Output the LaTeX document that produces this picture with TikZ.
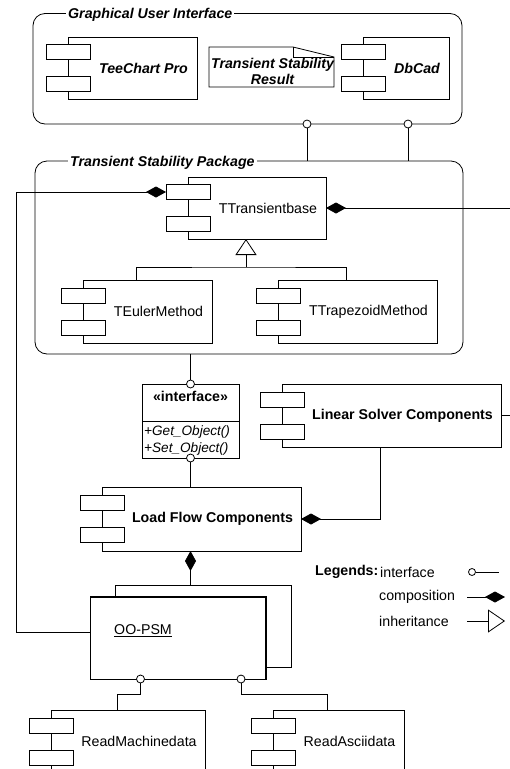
\documentclass[tikz,border=0pt]{standalone}
\usepackage{fontspec}
\setmainfont{Liberation Sans}
\usetikzlibrary{arrows.meta,calc,fit}
\newcommand\umlcomp[7]{%
  \node[cbody, anchor=north west, minimum width={(#4-#2)*1pt}, minimum height={(#5-#3)*1pt}] (#1-b) at (#2,#3) {};
  \node[cport] (#1-p1) at ([yshift=16pt]#1-b.west) {};
  \node[cport] (#1-p2) at ([yshift=-16pt]#1-b.west) {};
  \node[inner sep=0pt, outer sep=0pt, fit=(#1-p1)(#1-b)] (#1) {};
  \node[#6] (#1-t) at ($(#1-p1.east |- #1-b.center)!0.5!(#1-b.east)$) {#7};
}
\tikzset{
  lnw/.style={line width=0.8pt, draw=black},
  cbody/.style={draw, line width=0.8pt, fill=white, inner sep=0pt, outer sep=0pt},
  cport/.style={draw, line width=0.8pt, fill=white, minimum width=44pt, minimum height=15pt, inner sep=0pt, outer sep=0pt},
  fbi/.style={font=\fontsize{14.2}{16}\selectfont\bfseries\itshape, inner sep=0pt},
  fbf/.style={font=\fontsize{14.2}{16}\selectfont\bfseries, inner sep=0pt},
  frg/.style={font=\fontsize{14.2}{16}\selectfont, inner sep=0pt},
  fit13/.style={font=\fontsize{13.6}{15}\selectfont\itshape, inner sep=0pt},
  pkgbox/.style={draw, line width=0.8pt, rounded corners=12pt, inner sep=0pt, outer sep=0pt, anchor=north west},
  pkglbl/.style={fill=white, inner xsep=2pt, inner ysep=1pt, anchor=base west, font=\fontsize{14.2}{16}\selectfont\bfseries\itshape},
  lolli/.style={circle, draw, fill=white, minimum size=8pt, inner sep=0pt, outer sep=0pt, line width=0.8pt},
  compo/.style={lnw, -{Diamond[length=20pt,width=11pt]}},
  inher/.style={lnw, -{Triangle[open,length=16pt,width=21pt,fill=white]}},
}
\begin{document}
\begin{tikzpicture}[x=1pt,y=-1pt]
\clip (0,0) rectangle (510,769);
\fill[white] (0,0) rectangle (510,769);
% packages
\node[pkgbox, minimum width=429pt, minimum height=110.5pt] (gui) at (33,13.5) {};
\node[pkglbl] (gui-l) at (66,18) {Graphical User Interface};
\node[pkgbox, minimum width=428pt, minimum height=193pt] (tsp) at (35,161) {};
\node[pkglbl] (tsp-l) at (68,166) {Transient Stability Package};
% GUI contents
\umlcomp{tee}{68}{37}{197}{99}{fbi}{TeeChart Pro}
\umlcomp{dbc}{363}{37}{449}{99}{fbi}{DbCad}
\draw[lnw, fill=white] (209,47) -- (293,47) -- (334,57) -- (334,87) -- (209,87) -- cycle;
\draw[lnw] (293,47) -- (293,57) -- (334,57);
\node[fbi, align=center] (note) at (272.5,71) {Transient Stability\\Result};
% GUI lollipops
\node[lolli] (lg1) at (307,124) {};
\node[lolli] (lg2) at (408,124) {};
\draw[lnw] (lg1.south) -- (lg1.south |- tsp.north);
\draw[lnw] (lg2.south) -- (lg2.south |- tsp.north);
% TSP contents
\umlcomp{tb}{188}{177}{326}{239}{frg}{TTransientbase}
\umlcomp{te}{83}{280}{212}{343}{frg}{TEulerMethod}
\umlcomp{tt}{278}{280}{437}{343}{frg}{TTrapezoidMethod}
\coordinate (jn) at (tb.south |- 0,267);
\draw[lnw] (te.north) |- (jn) -| (tt.north);
\draw[inher] (jn) -- (tb.south);
% interface
\node[cbody, anchor=north west, minimum width=97pt, minimum height=74pt] (ifc) at (142,384) {};
\draw[lnw] (ifc.west |- 0,421) -- (ifc.east |- 0,421);
\node[fbf] (ifc-t) at (190.5,396) {«interface»};
\node[fit13, anchor=west] (ifc-m1) at (144,432) {+Get\_Object()};
\node[fit13, anchor=west] (ifc-m2) at (144,449) {+Set\_Object()};
\node[lolli] (li1) at (ifc.north) {};
\node[lolli] (li2) at (ifc.south) {};
\draw[lnw] (ifc.north |- tsp.south) -- (li1.north);
% Linear solver, load flow
\umlcomp{lsc}{282}{384}{501}{447}{fbf}{Linear Solver Components}
\umlcomp{lfc}{102}{487}{301}{551}{fbf}{Load Flow Components}
\draw[lnw] (li2.south) -- (lfc.north);
\draw[compo] (lsc.south) |- (lfc-b.east);
\coordinate (rx) at (510,0);
\draw[lnw] (lsc-b.east) -- (lsc-b.east -| rx);
\draw[compo] (tb-b.east -| rx) -- (tb-b.east);
% OO-PSM
\node[cbody, anchor=north west, minimum width=176pt, minimum height=82pt] (oo-k) at (115,585) {};
\node[cbody, anchor=north west, minimum width=176pt, minimum height=82pt] (oo-f) at (90,597) {};
\draw[line width=1.6pt] (oo-f.north west) -- (oo-f.north east) -- (oo-f.south east);
\node[inner sep=0pt, outer sep=0pt, fit=(oo-k)(oo-f)] (oo) {};
\node[frg] (oo-t) at (143,631) {\underline{OO-PSM}};
\draw[compo] (oo.north) -- (lfc.south);
\coordinate (lx) at (16,0);
\draw[compo] ([yshift=6pt]oo-f.west) -- ([yshift=6pt]oo-f.west -| lx) |- (tb-p1.west);
% readers
\umlcomp{rmd}{51}{710}{205}{773}{frg}{ReadMachinedata}
\umlcomp{rad}{273}{710}{404}{773}{frg}{ReadAsciidata}
\node[lolli] (lo1) at ([xshift=-50pt]oo.south) {};
\node[lolli] (lo2) at ([xshift=50.5pt]oo.south) {};
\draw[lnw] (lo1.south) -- ++(0,11) -| (rmd.north);
\draw[lnw] (lo2.south) -- ++(0,11) -| (rad.north);
% legend
\node[fbf, anchor=west] (lgd) at (315,572) {Legends:};
\node[frg, anchor=west] (lgd-i) at (380,572) {interface};
\node[frg, anchor=west] (lgd-c) at (379,597) {composition};
\node[frg, anchor=west] (lgd-h) at (379,621) {inheritance};
\node[lolli, minimum size=7pt] (lgd-o) at (472,572) {};
\coordinate (lgd-oe) at (499,572);
\draw[lnw] (lgd-o.east) -- (lgd-oe);
\coordinate (lgd-c1) at (467,597);
\coordinate (lgd-c2) at (505,597);
\draw[compo] (lgd-c1) -- (lgd-c2);
\coordinate (lgd-h1) at (467,621);
\coordinate (lgd-h2) at (505,621);
\draw[lnw, -{Triangle[open,length=17pt,width=23pt]}] (lgd-h1) -- (lgd-h2);
\end{tikzpicture}
\end{document}
